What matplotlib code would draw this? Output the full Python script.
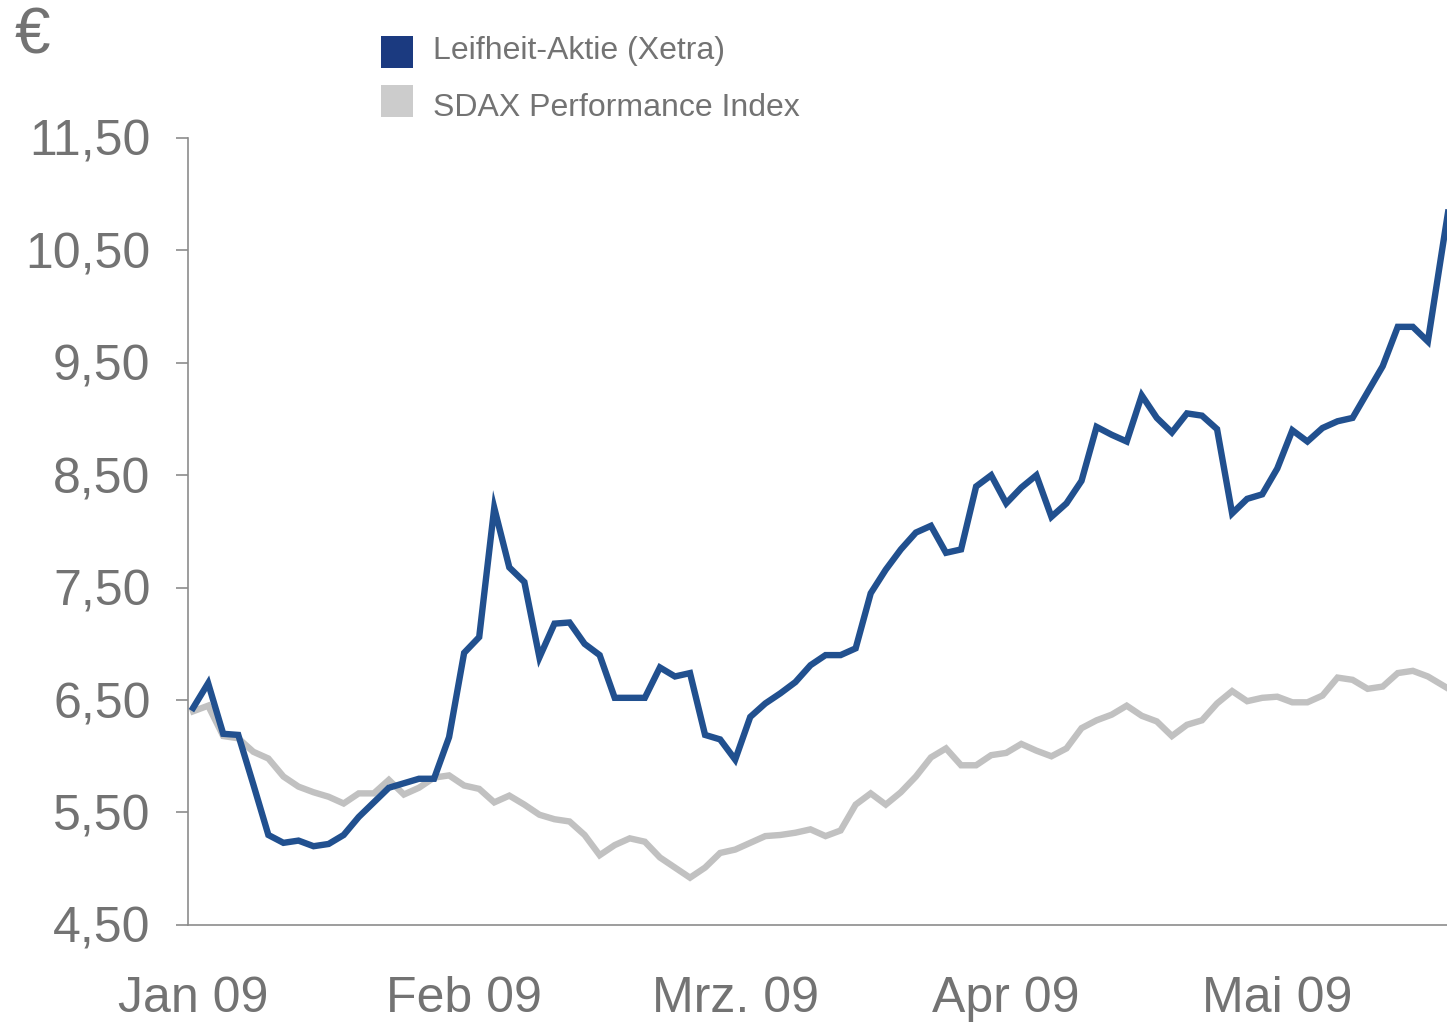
import matplotlib
matplotlib.use("Agg")
import matplotlib.pyplot as plt
from matplotlib.patches import Rectangle
from matplotlib.ticker import FixedLocator, FuncFormatter

# ---------- data (one point per sample) ----------
leifheit = [6.43, 6.65, 6.20, 6.19, 5.75, 5.30, 5.23, 5.25, 5.20, 5.22,
            5.30, 5.46, 5.59, 5.72, 5.76, 5.80, 5.80, 6.17, 6.92, 7.06,
            8.21, 7.68, 7.55, 6.88, 7.18, 7.19, 7.00, 6.90, 6.52, 6.52,
            6.52, 6.79, 6.71, 6.74, 6.19, 6.15, 5.97, 6.35, 6.47, 6.56,
            6.66, 6.81, 6.90, 6.90, 6.96, 7.45, 7.66, 7.84, 7.99, 8.05,
            7.81, 7.84, 8.40, 8.50, 8.25, 8.39, 8.50, 8.13, 8.25, 8.45,
            8.93, 8.86, 8.80, 9.21, 9.01, 8.88, 9.05, 9.03, 8.91, 8.16,
            8.29, 8.33, 8.56, 8.90, 8.80, 8.92, 8.98, 9.01, 9.24, 9.47,
            9.82, 9.82, 9.69, 10.55, 11.40]

sdax = [6.40, 6.45, 6.18, 6.16, 6.04, 5.98, 5.82, 5.73, 5.68, 5.64,
        5.58, 5.67, 5.67, 5.79, 5.66, 5.72, 5.81, 5.83, 5.74, 5.71,
        5.59, 5.65, 5.57, 5.48, 5.44, 5.42, 5.30, 5.12, 5.21, 5.27,
        5.24, 5.10, 5.01, 4.92, 5.01, 5.14, 5.17, 5.23, 5.29, 5.30,
        5.32, 5.35, 5.29, 5.34, 5.57, 5.67, 5.57, 5.68, 5.82, 5.99,
        6.07, 5.92, 5.92, 6.01, 6.03, 6.11, 6.05, 6.00, 6.07, 6.25,
        6.32, 6.37, 6.45, 6.36, 6.31, 6.18, 6.28, 6.32, 6.47, 6.58,
        6.49, 6.52, 6.53, 6.48, 6.48, 6.54, 6.70, 6.68, 6.60, 6.62,
        6.74, 6.76, 6.71, 6.63, 6.55]

month_labels = ["Jan 09", "Feb 09", "Mrz. 09", "Apr 09", "Mai 09"]
month_pos = [0, 18, 36, 54, 72]
y_ticks = [4.5, 5.5, 6.5, 7.5, 8.5, 9.5, 10.5, 11.5]
series_names = ["Leifheit-Aktie (Xetra)", "SDAX Performance Index"]

BLUE = "#21508f"
BLUE_KEY = "#1b3a80"
GREY = "#c1c1c1"
GREY_KEY = "#cccccc"
TXT = "#737373"
AX = "#8c8c8c"

plt.rcParams["font.family"] = ["Liberation Sans", "DejaVu Sans"]

fig = plt.figure(figsize=(14.47, 10.22), dpi=100)
ax = fig.add_axes([0.130, 0.095, 0.870, 0.770])

x = list(range(len(leifheit)))
ax.plot(x, sdax, color=GREY, lw=4.6, solid_joinstyle="miter", zorder=2)
ax.plot(x, leifheit, color=BLUE, lw=4.6, solid_joinstyle="miter", zorder=3)

ax.set_xlim(-0.33, 83.27)
ax.set_ylim(4.5, 11.5)

ax.yaxis.set_major_locator(FixedLocator(y_ticks))
ax.yaxis.set_major_formatter(FuncFormatter(lambda v, p: f"{v:.2f}".replace(".", ",")))
ax.set_xticks(month_pos)
ax.set_xticklabels(month_labels)

for s in ["top", "right"]:
    ax.spines[s].set_visible(False)
for s in ["left", "bottom"]:
    ax.spines[s].set_color(AX)
    ax.spines[s].set_linewidth(1.2)

ax.tick_params(axis="y", length=9, width=1.2, color=AX, pad=18,
               labelsize=36, labelcolor=TXT)
ax.tick_params(axis="x", length=0, pad=37, labelsize=36, labelcolor=TXT)

# euro sign and legend
fig.text(15 / 1447, 1 - 36 / 1022, "€", fontsize=46, color=TXT, va="center", ha="left")

keys = [BLUE_KEY, GREY_KEY]
text_y = [51, 108]
for i, (name, col) in enumerate(zip(series_names, keys)):
    yc = 1 - (52 + 49 * i) / 1022
    fig.add_artist(Rectangle((381 / 1447, yc - 16 / 1022), 32 / 1447, 32 / 1022,
                             transform=fig.transFigure, color=col, lw=0))
    fig.text(433 / 1447, 1 - text_y[i] / 1022, name, fontsize=23, color=TXT,
             va="center", ha="left")

fig.savefig("out.png", dpi=100)
